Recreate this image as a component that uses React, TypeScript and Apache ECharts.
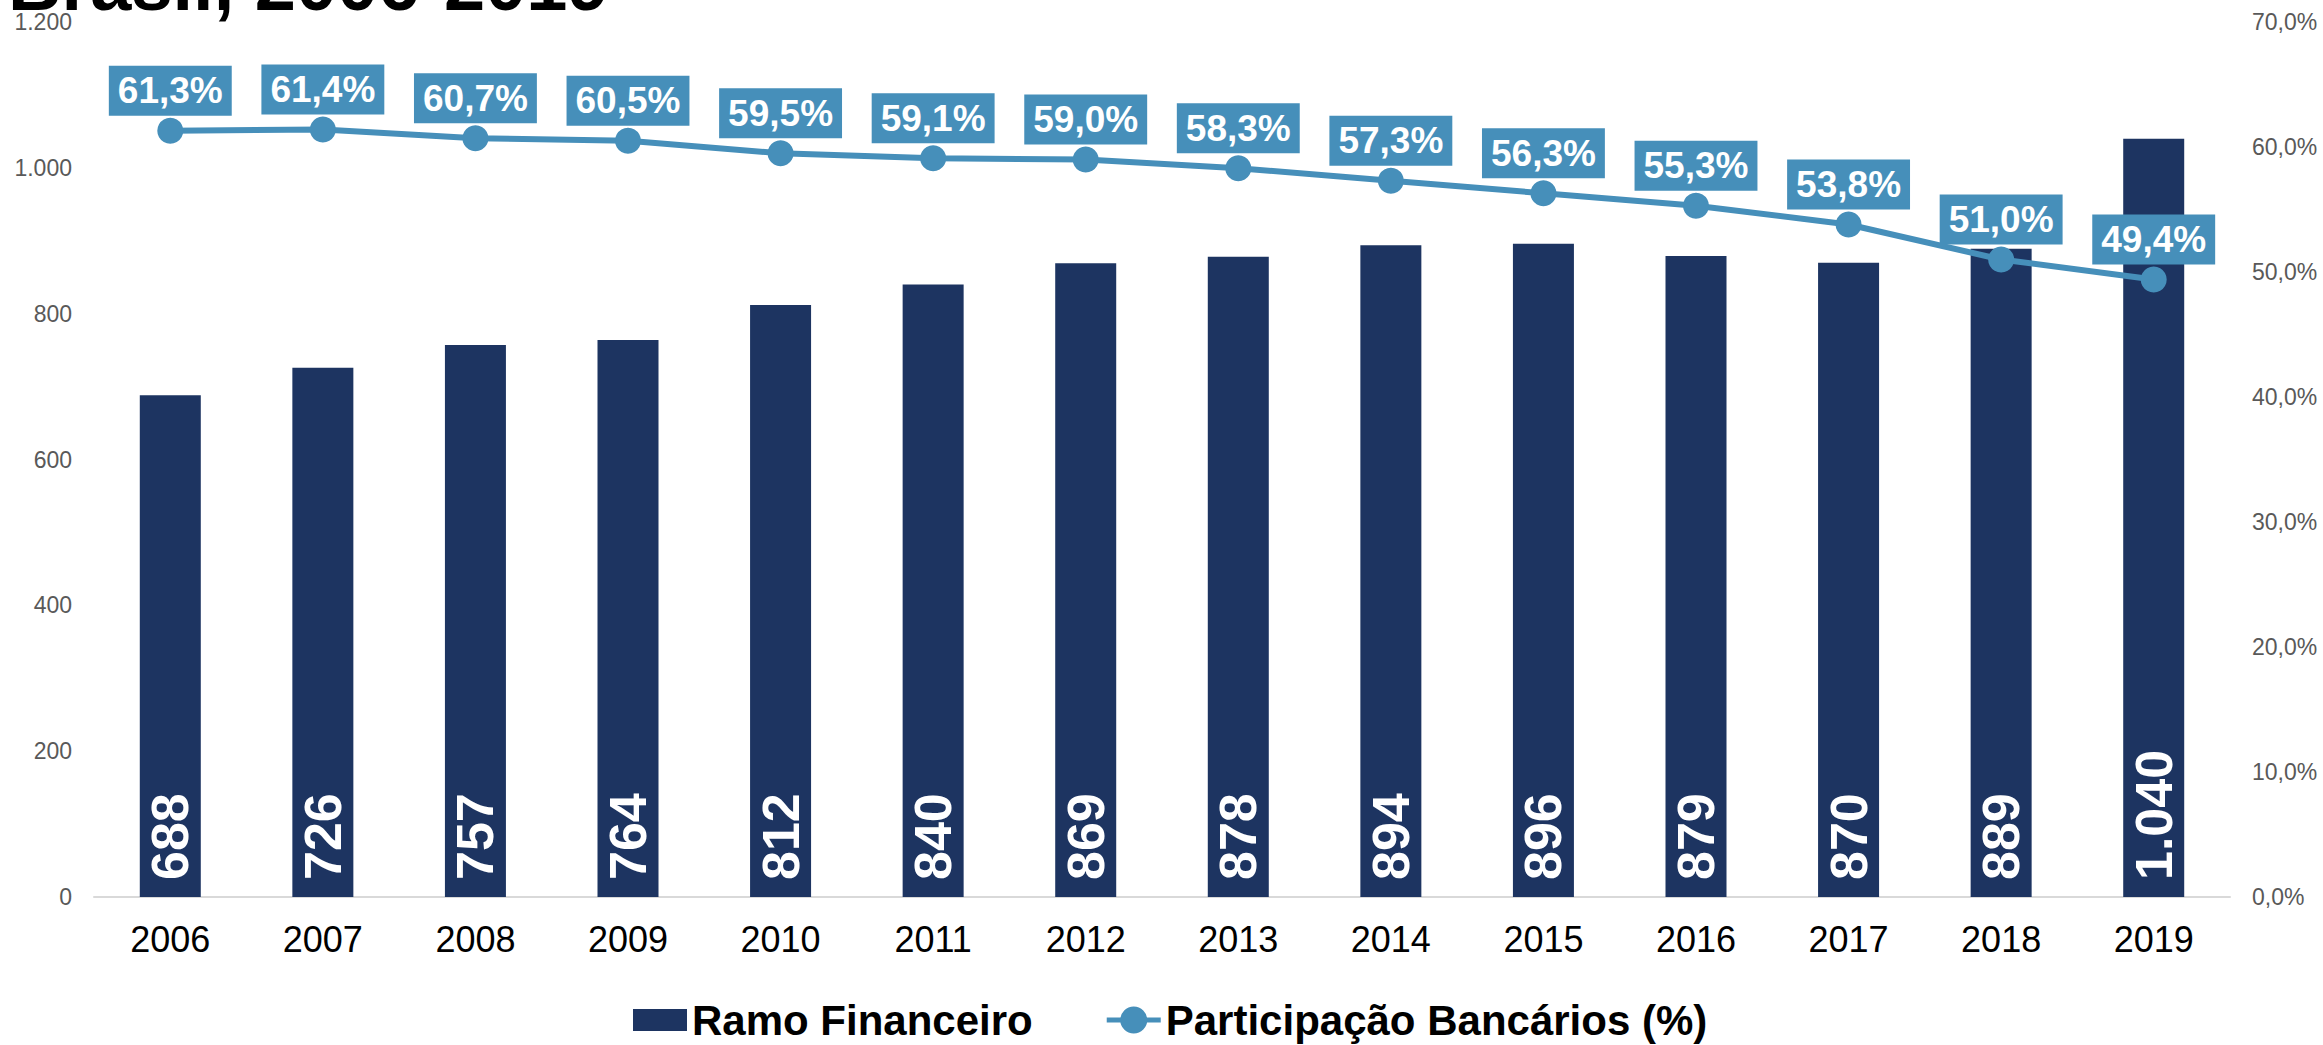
import React, { useEffect, useRef } from "react";
import * as echarts from "echarts";

const years = ["2006", "2007", "2008", "2009", "2010", "2011", "2012", "2013", "2014", "2015", "2016", "2017", "2018", "2019"];
const ramoFinanceiro = [688, 726, 757, 764, 812, 840, 869, 878, 894, 896, 879, 870, 889, 1040];
const participacaoBancarios = [61.3, 61.4, 60.7, 60.5, 59.5, 59.1, 59.0, 58.3, 57.3, 56.3, 55.3, 53.8, 51.0, 49.4];
const titleText = "Brasil, 2006-2019";
const legendNames = ["Ramo Financeiro", "Participação Bancários (%)"];

const FONT = '"Liberation Sans", Arial, sans-serif';
const BAR_COLOR = "#1D3461";
const LINE_COLOR = "#468FBA";

const fmtThousands = (v: number) => String(Math.round(v)).replace(/\B(?=(\d{3})+(?!\d))/g, ".");
const fmtPct = (v: number) => v.toFixed(1).replace(".", ",") + "%";

export default function App() {
  const ref = useRef<HTMLDivElement>(null);
  useEffect(() => {
    if (!ref.current) return;
    const chart = echarts.init(ref.current, null, { renderer: "svg" });
    chart.setOption({
      animation: false,
      backgroundColor: "#ffffff",
      textStyle: { fontFamily: FONT },
      grid: { left: 94, right: 93, top: 22, bottom: 148, containLabel: false },
      graphic: [
        {
          type: "text",
          left: 8,
          top: -53,
          style: { text: titleText, font: `bold 74px ${FONT}`, fill: "#000000" },
        },
      ],
      legend: {
        left: 628,
        top: 994,
        itemWidth: 54,
        itemHeight: 27,
        itemGap: 74,
        textStyle: { fontFamily: FONT, fontSize: 42, fontWeight: "bold", color: "#000000", padding: [0, 0, 0, 0] },
        data: [
          { name: legendNames[0], icon: "path://M0,0M0,2.5h54v22H0zM54,27" },
          {
            name: legendNames[1],
            icon: "path://M0,11h54v5H0zM13.5,13.5a13.5,13.5 0 1,1 27,0a13.5,13.5 0 1,1 -27,0z",
          },
        ],
      },
      xAxis: {
        type: "category",
        data: years,
        axisTick: { show: false },
        axisLine: { lineStyle: { color: "#d9d9d9", width: 2 } },
        axisLabel: { fontSize: 36, color: "#000000", margin: 24, fontFamily: FONT },
      },
      yAxis: [
        {
          type: "value",
          min: 0,
          max: 1200,
          interval: 200,
          splitLine: { show: false },
          axisLine: { show: false },
          axisTick: { show: false },
          axisLabel: { fontSize: 23, color: "#595959", margin: 22, fontFamily: FONT, formatter: (v: number) => fmtThousands(v) },
        },
        {
          type: "value",
          min: 0,
          max: 70,
          interval: 10,
          splitLine: { show: false },
          axisLine: { show: false },
          axisTick: { show: false },
          axisLabel: { fontSize: 23, color: "#595959", margin: 22, fontFamily: FONT, formatter: (v: number) => fmtPct(v) },
        },
      ],
      series: [
        {
          name: legendNames[0],
          type: "bar",
          data: ramoFinanceiro,
          barWidth: 61,
          itemStyle: { color: BAR_COLOR },
          label: {
            show: true,
            position: "insideBottom",
            rotate: 90,
            align: "left",
            verticalAlign: "middle",
            distance: 17,
            color: "#ffffff",
            fontSize: 52,
            fontWeight: "bold",
            fontFamily: FONT,
            formatter: (p: any) => fmtThousands(p.value),
          },
        },
        {
          name: legendNames[1],
          type: "line",
          yAxisIndex: 1,
          data: participacaoBancarios,
          symbol: "circle",
          symbolSize: 26,
          z: 5,
          lineStyle: { color: LINE_COLOR, width: 6 },
          itemStyle: { color: LINE_COLOR },
          label: {
            show: true,
            position: "top",
            distance: 2,
            color: "#ffffff",
            fontSize: 37,
            fontWeight: "bold",
            fontFamily: FONT,
            lineHeight: 38,
            backgroundColor: LINE_COLOR,
            padding: [6, 9, 6, 9],
            formatter: (p: any) => fmtPct(p.value),
          },
        },
      ],
    });
    return () => chart.dispose();
  }, []);
  return <div ref={ref} style={{ position: "absolute", left: 0, top: 0, width: 2323, height: 1045 }} />;
}
